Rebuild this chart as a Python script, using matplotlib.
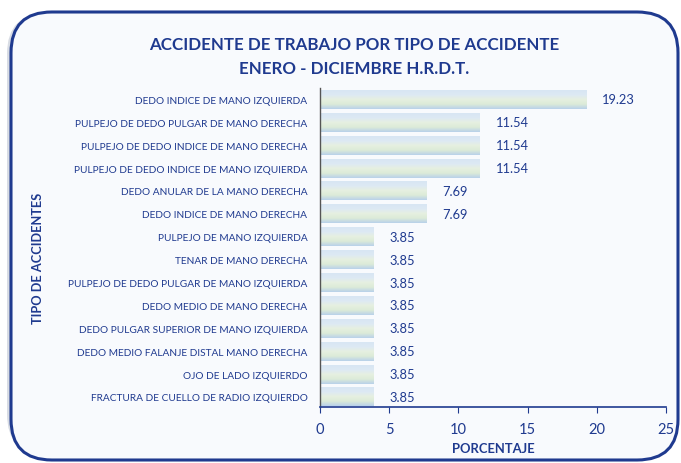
import matplotlib
matplotlib.use("Agg")
import matplotlib.pyplot as plt
import numpy as np
from matplotlib.patches import FancyBboxPatch
from matplotlib.colors import LinearSegmentedColormap

categories = [
    "DEDO INDICE DE MANO IZQUIERDA",
    "PULPEJO DE DEDO PULGAR DE MANO DERECHA",
    "PULPEJO DE DEDO INDICE DE MANO DERECHA",
    "PULPEJO DE DEDO INDICE DE MANO IZQUIERDA",
    "DEDO ANULAR DE LA MANO DERECHA",
    "DEDO INDICE DE MANO DERECHA",
    "PULPEJO DE MANO IZQUIERDA",
    "TENAR DE MANO DERECHA",
    "PULPEJO DE DEDO PULGAR DE MANO IZQUIERDA",
    "DEDO MEDIO DE MANO DERECHA",
    "DEDO PULGAR SUPERIOR DE MANO IZQUIERDA",
    "DEDO MEDIO FALANJE DISTAL MANO DERECHA",
    "OJO DE LADO IZQUIERDO",
    "FRACTURA DE CUELLO DE RADIO IZQUIERDO",
]
values = [19.23, 11.54, 11.54, 11.54, 7.69, 7.69, 3.85, 3.85, 3.85, 3.85, 3.85, 3.85, 3.85, 3.85]
xticks = [0, 5, 10, 15, 20, 25]

plt.rcParams['font.family'] = ['Lato', 'DejaVu Sans']
blue = "#1F3A8F"

fig = plt.figure(figsize=(6.81, 4.64), dpi=100)
fig.patch.set_facecolor("white")

# rounded frame with shadow
shadow = FancyBboxPatch((7 / 681, 8 / 464), 668 / 681, 442 / 464,
                        boxstyle="round,pad=0,rounding_size=0.06",
                        transform=fig.transFigure, facecolor="#D8DCE4",
                        edgecolor="none", zorder=0, mutation_aspect=681 / 464)
frame = FancyBboxPatch((11 / 681, 3 / 464), 667 / 681, 448 / 464,
                       boxstyle="round,pad=0,rounding_size=0.06",
                       transform=fig.transFigure, facecolor="#F8FAFD",
                       edgecolor="#1F3A8F", linewidth=2.2, zorder=1,
                       mutation_aspect=681 / 464)
fig.patches.extend([shadow, frame])

ax = fig.add_axes([320 / 681, 56 / 464, 346 / 681, 319 / 464])
ax.set_facecolor("none")
ax.set_zorder(2)

n = len(categories)
ypos = np.arange(n)[::-1]
h = 0.83
cmap = LinearSegmentedColormap.from_list(
    "g", ["#B9D1EA", "#DCEBD8", "#E6F0E0", "#DDE9F4", "#D8E6F3"])
grad = np.linspace(0, 1, 64).reshape(-1, 1)
bars = ax.barh(ypos, values, height=h, color="none", edgecolor="none")
for b, v in zip(bars, values):
    x0, y0 = b.get_x(), b.get_y()
    ax.imshow(grad, extent=[x0, x0 + b.get_width(), y0, y0 + b.get_height()],
              cmap=cmap, aspect="auto", origin="lower", zorder=2)
    ax.annotate(f"{v:.2f}", xy=(b.get_width(), y0 + b.get_height() / 2),
                xytext=(11.5, 0), textcoords="offset points",
                va="center", ha="left", fontsize=9.3, color=blue)

ax.set_xlim(0, 25)
ax.set_ylim(-0.44, n - 0.5)
ax.set_xticks(xticks)
ax.set_xticklabels([str(t) for t in xticks], fontsize=10.5, color=blue)
ax.set_yticks(ypos)
ax.set_yticklabels(categories, fontsize=7.25, color=blue)
ax.tick_params(axis="y", length=0, pad=9)
ax.tick_params(axis="x", direction="out", length=4, color=blue, pad=7)
for s in ["top", "right"]:
    ax.spines[s].set_visible(False)
ax.spines["left"].set_color("#555555")
ax.spines["left"].set_linewidth(1.0)
ax.spines["bottom"].set_color(blue)
ax.spines["bottom"].set_linewidth(1.2)

ax.set_xlabel("PORCENTAJE", fontsize=9.4, fontweight="bold", color=blue, labelpad=4)

fig.text(38 / 681, 1 - 258 / 464, "TIPO DE ACCIDENTES", rotation=90,
         ha="center", va="center", fontsize=9.2, fontweight="bold", color=blue)
fig.text(354 / 681, 1 - 45 / 464, "ACCIDENTE DE TRABAJO POR TIPO DE ACCIDENTE",
         ha="center", va="center", fontsize=12.2, fontweight="bold", color=blue)
fig.text(354 / 681, 1 - 69 / 464, "ENERO - DICIEMBRE H.R.D.T.",
         ha="center", va="center", fontsize=12.2, fontweight="bold", color=blue)

fig.savefig("out.png", dpi=100)
